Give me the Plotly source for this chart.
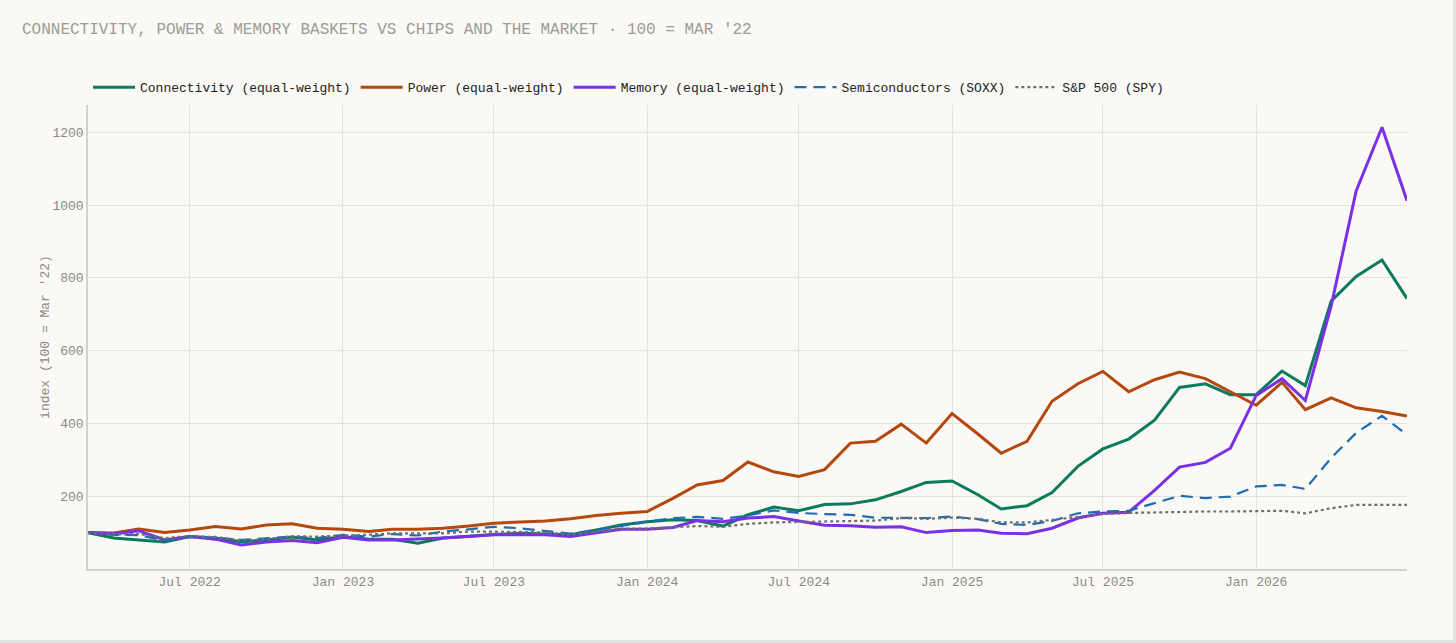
import pandas as pd
import plotly.graph_objects as go

# monthly index levels, 100 = Mar '22
months = pd.date_range("2022-03-01", "2026-07-01", freq="MS")

connectivity = [
    100, 85, 80, 74, 89, 85, 75, 80, 88, 80,
    89, 82, 82, 71, 85, 91, 95, 98, 96, 94, 107, 121,
    130, 135, 133, 118, 149, 170, 160, 177, 179, 190, 213, 238,
    242, 204, 165, 174, 210, 282, 330, 357, 409, 499, 509, 479,
    479, 544, 504, 736, 804, 849, 743,
]
power = [
    100, 99, 110, 100, 107, 117, 110, 121, 124, 112,
    109, 103, 109, 109, 112, 118, 126, 129, 132, 138, 147, 153,
    158, 194, 231, 243, 294, 267, 254, 273, 346, 351, 398, 346,
    427, 371, 318, 351, 461, 509, 543, 487, 520, 541, 523, 487,
    450, 513, 438, 470, 443, 433, 420,
]
memory = [
    100, 96, 105, 80, 89, 82, 66, 74, 78, 72,
    87, 80, 80, 82, 85, 89, 94, 94, 94, 89, 100, 109,
    109, 114, 133, 130, 140, 144, 132, 120, 119, 115, 116, 100,
    106, 107, 98, 97, 112, 140, 153, 156, 216, 280, 293, 332,
    477, 523, 463, 723, 1039, 1214, 1012,
]
soxx = [
    100, 94, 93, 78, 88, 86, 80, 84, 89, 85,
    94, 89, 96, 92, 103, 109, 116, 112, 105, 97, 107, 119,
    130, 140, 143, 138, 147, 161, 154, 151, 149, 141, 140, 140,
    144, 137, 124, 121, 132, 153, 158, 160, 181, 201, 195, 199,
    227, 231, 220, 305, 374, 421, 369,
]
spy = [
    100, 95, 96, 85, 90, 88, 78, 82, 90, 89,
    92, 94, 98, 98, 98, 103, 103, 102, 100, 94, 103, 111,
    111, 114, 118, 116, 124, 128, 129, 130, 131, 133, 140, 138,
    141, 138, 128, 128, 135, 144, 151, 154, 156, 158, 158, 158,
    160, 160, 153, 167, 176, 176, 176,
]

x_ticks = ["2022-07-01", "2023-01-01", "2023-07-01", "2024-01-01",
           "2024-07-01", "2025-01-01", "2025-07-01", "2026-01-01"]
y_ticks = [200, 400, 600, 800, 1000, 1200]

MONO = "Liberation Mono, DejaVu Sans Mono, monospace"
BG = "#faf9f5"
GRID = "#e4e2dc"
MUTED = "#8a8a86"

series = [
    ("Connectivity (equal-weight)", connectivity, "#0b7a5e", "solid", 3),
    ("Power (equal-weight)", power, "#b4480f", "solid", 3),
    ("Memory (equal-weight)", memory, "#7a30e4", "solid", 3),
    ("Semiconductors (SOXX)", soxx, "#1f6db0", "12px,7px", 2.2),
    ("S&P 500 (SPY)", spy, "#6e6e6a", "dot", 2.2),
]

fig = go.Figure()
for name, vals, color, dash, width in series:
    fig.add_trace(go.Scatter(
        x=months, y=vals, name=name, mode="lines",
        line=dict(color=color, dash=dash, width=width),
    ))

fig.update_layout(
    width=1453,
    height=640,
    paper_bgcolor=BG,
    plot_bgcolor=BG,
    margin=dict(l=88, r=46, t=105, b=71),
    font=dict(family=MONO, size=13, color=MUTED),
    title=dict(
        text="CONNECTIVITY, POWER & MEMORY BASKETS VS CHIPS AND THE MARKET · 100 = MAR '22",
        font=dict(family=MONO, size=16, color="#9c9c97"),
        xref="container", yref="container",
        x=22 / 1453, xanchor="left",
        y=1 - 28 / 640, yanchor="middle",
    ),
    legend=dict(
        orientation="h",
        x=0, xanchor="left",
        y=1.006, yanchor="bottom",
        font=dict(family=MONO, size=13, color="#222222"),
        bgcolor="rgba(0,0,0,0)",
        itemwidth=42,
    ),
    showlegend=True,
)

fig.update_xaxes(
    range=[months[0], months[-1]],
    tickmode="array",
    tickvals=x_ticks,
    tickformat="%b %Y",
    showgrid=True,
    gridcolor=GRID,
    showline=True,
    linecolor="#d4d2cc",
    linewidth=1.5,
    ticks="",
    tickfont=dict(family=MONO, size=13, color=MUTED),
)
fig.update_yaxes(
    range=[0, 1275],
    tickmode="array",
    tickvals=y_ticks,
    showgrid=True,
    gridcolor=GRID,
    zeroline=False,
    showline=True,
    linecolor="#d4d2cc",
    linewidth=1.5,
    ticks="",
    tickfont=dict(family=MONO, size=13, color=MUTED),
    title=dict(text="index (100 = Mar '22)", font=dict(family=MONO, size=13, color=MUTED), standoff=0),
)

fig.write_html(
    "out.html",
    config={"displayModeBar": False},
    post_script="document.body.style.margin='0';document.body.style.background='#e4e2dd';",
)
